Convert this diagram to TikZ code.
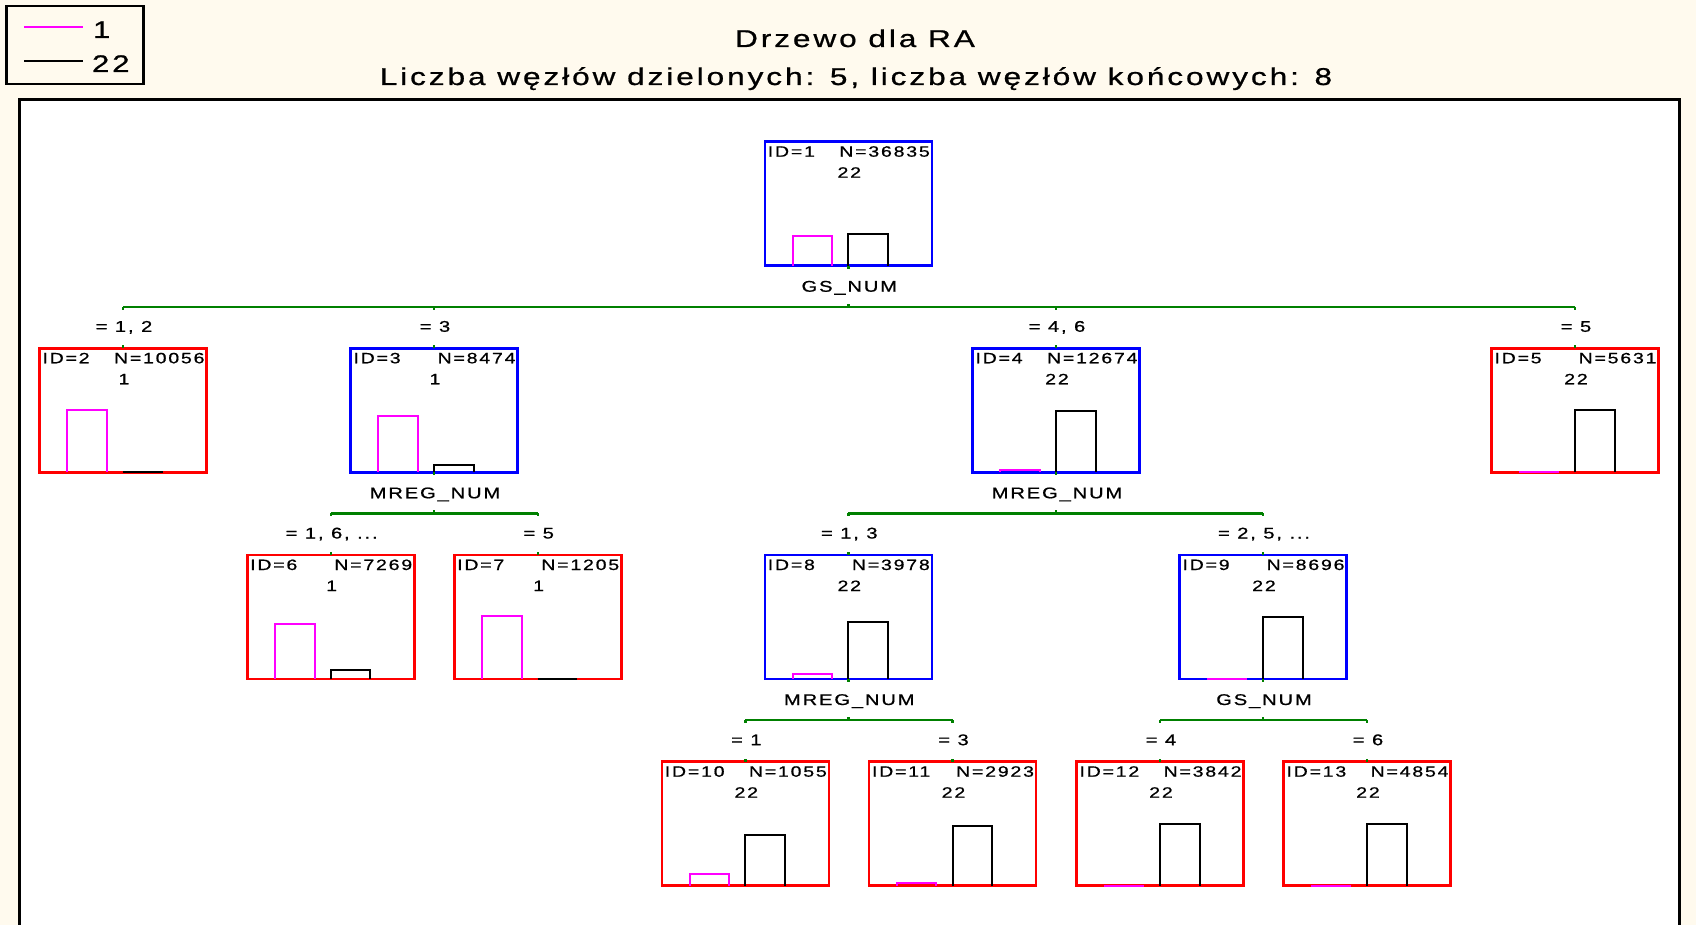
\documentclass[tikz,border=0pt]{standalone}
\usepackage{fontspec}
\usetikzlibrary{calc}
\newfontfamily\tf[FakeStretch=1.3,LetterSpace=12,FakeBold=0.8]{Liberation Sans}
\definecolor{bgc}{RGB}{255,250,238}
\definecolor{grn}{RGB}{0,128,0}
\definecolor{mag}{RGB}{255,0,255}
\tikzset{
  box/.style={draw, line width=2.6pt, minimum width=167pt, minimum height=124pt, inner sep=0pt, outer sep=0pt, fill=white},
  splitbox/.style={box, draw=blue},
  leafbox/.style={box, draw=red},
  conn/.style={draw=grn, line width=2.4pt},
  ntext/.style={inner sep=0pt, outer sep=0pt, font=\tf\fontsize{15}{18}\selectfont},
  stext/.style={inner sep=0pt, outer sep=0pt, font=\tf\fontsize{15.5}{19}\selectfont},
  ttext/.style={inner sep=0pt, outer sep=0pt, font=\tf\fontsize{24}{28}\selectfont},
  titletext/.style={inner sep=0pt, outer sep=0pt, font=\tf\fontsize{24.3}{28}\selectfont},
  magbar/.style={draw=mag, line width=2pt},
  blkbar/.style={draw=black, line width=2pt},
}
\newcommand\treenode[9]{%
  \node[#2] (#1) at (#3,#4) {};
  \node[ntext, anchor=base west] (#1id) at ($(#1.north west)+(3,15)$) {ID=#5};
  \node[ntext, anchor=base east] (#1n) at ($(#1.north east)+(-2,15)$) {N=#6};
  \node[ntext, anchor=base] (#1c) at ($(#1.north)+(1,36)$) {#7};
  \draw[magbar] ($(#1.south)+(-55.6,0)$) -- ++(0,-#8) -- ++(39.5,0) -- ++(0,#8);
  \draw[blkbar] (#1.south) -- ++(0,-#9) -- ++(39.5,0) -- ++(0,#9);
}
\newcommand\splitlabel[4]{% parent, text, leftchild, rightchild
  \draw[conn] (#1.south) -- ++(0,3);
  \node[stext, anchor=base] (#1s) at ($(#1.south)+(1,26)$) {#2};
  \coordinate (#1h) at ($(#1.south)+(0,41)$);
  \draw[conn] (#1h) -- ++(0,-3);
  \draw[conn] (#1h -| #3) -- (#1h -| #4);
}
\newcommand\childlabel[3]{% parent, child, text
  \draw[conn] (#1h -| #2) -- ++(0,3);
  \node[stext, anchor=base] (#2l) at ($(#2.north)+(1,-16.5)$) {#3};
  \draw[conn] (#2.north) -- ++(0,-3);
}
\begin{document}
\begin{tikzpicture}[x=1pt,y=-1pt]
\useasboundingbox (0,0) rectangle (1696,925);
\clip (0,0) rectangle (1696,925);
\fill[bgc] (0,0) rectangle (1696,925);
% frame
\draw[line width=3pt, fill=white] (19,100) rectangle (1679,960);
% legend
\node[draw, line width=2.5pt, fill=bgc, minimum width=137pt, minimum height=78pt, inner sep=0pt, anchor=north west] (leg) at (5,5) {};
\draw[draw=mag, line width=2pt] (24,27) -- (83,27);
\draw[draw=black, line width=1.5pt] (24,61) -- (83,61);
\node[ttext, anchor=base west] (leg1) at (93,38) {1};
\node[ttext, anchor=base west] (leg22) at (92,72) {22};
% title
\node[titletext, anchor=base] (title1) at (855,47) {Drzewo dla RA};
\node[titletext, anchor=base] (title2) at (856,85) {Liczba węzłów dzielonych: 5, liczba węzłów końcowych: 8};
% nodes
\treenode{n1}{splitbox}{848.3}{203.7}{1}{36835}{22}{30}{31.7}
\treenode{n2}{leafbox}{123}{410.3}{2}{10056}{1}{62.7}{0}
\treenode{n3}{splitbox}{434}{410.3}{3}{8474}{1}{56}{7.5}
\treenode{n4}{splitbox}{1056}{410.3}{4}{12674}{22}{2}{61.6}
\treenode{n5}{leafbox}{1575}{410.3}{5}{5631}{22}{0}{62.3}
\treenode{n6}{leafbox}{330.7}{617}{6}{7269}{1}{55}{8.6}
\treenode{n7}{leafbox}{537.7}{617}{7}{1205}{1}{62.7}{0}
\treenode{n8}{splitbox}{848.3}{617}{8}{3978}{22}{5.4}{57}
\treenode{n9}{splitbox}{1263}{617}{9}{8696}{22}{0}{61.6}
\treenode{n10}{leafbox}{745.3}{823.7}{10}{1055}{22}{11.4}{51}
\treenode{n11}{leafbox}{952.5}{823.7}{11}{2923}{22}{3}{59.7}
\treenode{n12}{leafbox}{1160}{823.7}{12}{3842}{22}{0}{61.7}
\treenode{n13}{leafbox}{1367}{823.7}{13}{4854}{22}{0}{61.4}
% connectors
\splitlabel{n1}{GS\_NUM}{n2}{n5}
\childlabel{n1}{n2}{= 1, 2}
\childlabel{n1}{n3}{= 3}
\childlabel{n1}{n4}{= 4, 6}
\childlabel{n1}{n5}{= 5}
\splitlabel{n3}{MREG\_NUM}{n6}{n7}
\childlabel{n3}{n6}{= 1, 6, ...}
\childlabel{n3}{n7}{= 5}
\splitlabel{n4}{MREG\_NUM}{n8}{n9}
\childlabel{n4}{n8}{= 1, 3}
\childlabel{n4}{n9}{= 2, 5, ...}
\splitlabel{n8}{MREG\_NUM}{n10}{n11}
\childlabel{n8}{n10}{= 1}
\childlabel{n8}{n11}{= 3}
\splitlabel{n9}{GS\_NUM}{n12}{n13}
\childlabel{n9}{n12}{= 4}
\childlabel{n9}{n13}{= 6}
\end{tikzpicture}
\end{document}
